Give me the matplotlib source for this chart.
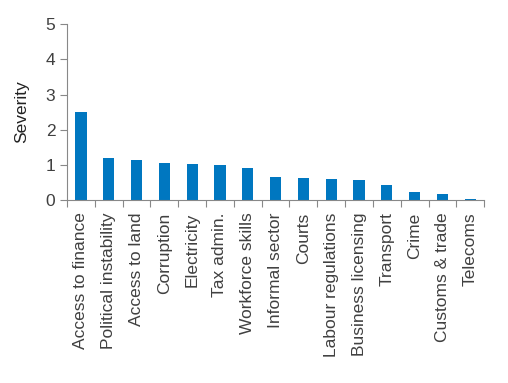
import matplotlib.pyplot as plt

categories = ["Access to finance", "Political instability", "Access to land", "Corruption",
              "Electricity", "Tax admin.", "Workforce skills", "Informal sector", "Courts",
              "Labour regulations", "Business licensing", "Transport", "Crime",
              "Customs & trade", "Telecoms"]
severity = [2.51, 1.20, 1.14, 1.05, 1.03, 1.00, 0.91, 0.655, 0.63, 0.60, 0.57, 0.43, 0.23, 0.17, 0.03]

plt.rcParams['font.family'] = ['Liberation Sans', 'DejaVu Sans']

fig = plt.figure(figsize=(5.08, 3.83), dpi=100)
ax = fig.add_axes([0.132, 0.478, 0.821, 0.4586])

x = range(len(categories))
ax.bar(x, severity, width=0.4, color="#0077C0")

ax.set_xlim(-0.5, len(categories) - 0.5)
ax.set_ylim(0, 5)
ax.set_yticks([0, 1, 2, 3, 4, 5])
ax.set_xticks([i - 0.5 for i in range(len(categories) + 1)], minor=False)
ax.set_xticklabels([])
ax.set_xticks(list(x), minor=True)
ax.set_xticklabels(categories, minor=True, rotation=90, fontsize=12.5, color="#404040")
ax.tick_params(axis='x', which='minor', length=0, pad=9)
ax.tick_params(axis='x', which='major', length=5, color="#888888", direction='out')
ax.tick_params(axis='y', length=5, color="#888888", labelsize=12.5, labelcolor="#404040")

for s in ["top", "right"]:
    ax.spines[s].set_visible(False)
for s in ["left", "bottom"]:
    ax.spines[s].set_color("#888888")

ax.set_ylabel("Severity", fontsize=12.5, color="#222222")
ax.yaxis.set_label_coords(-0.09, 0.5)

plt.savefig("out.png")
